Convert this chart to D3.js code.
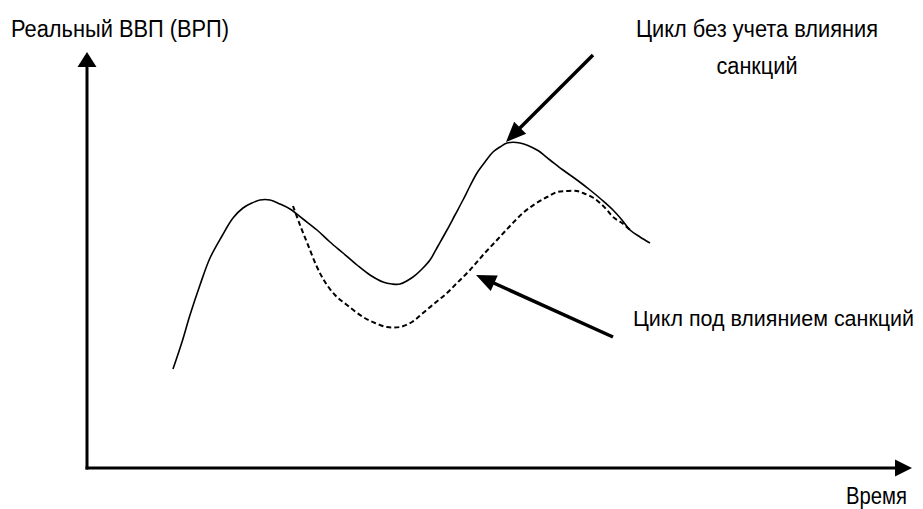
<!DOCTYPE html>
<html>
<head>
<meta charset="utf-8">
<script src="https://cdn.jsdelivr.net/npm/d3@7/dist/d3.min.js"></script>
<style>
  html, body { margin: 0; padding: 0; background: #fff; }
  svg { display: block; }
  text { font-family: "Liberation Sans", Arial, sans-serif; fill: #000; }
</style>
</head>
<body>
<div id="chart"></div>
<script>
// Time (arbitrary units) and real GDP (arbitrary units)
const cycleNoSanctionsT = [86, 95, 103, 113, 123, 135, 146, 156, 165, 173, 183, 193, 203, 216, 230, 243, 256, 270, 283, 296, 305, 313, 326, 335, 343, 351, 360, 368, 376, 383, 390, 398, 406, 413, 420, 433, 450, 463, 476, 490, 503, 515, 526, 535, 543, 553, 563];
const cycleNoSanctionsY = [99, 126, 153, 183, 210, 232, 250, 260, 265, 268, 268, 264, 259, 249, 238, 226, 215, 203, 193, 186, 184, 184, 191, 199, 208, 222, 238, 253, 268, 282, 295, 306, 316, 321, 325, 325, 318, 308, 298, 288, 278, 268, 258, 248, 238, 231, 225];

const cycleSanctionsT = [206, 213, 221, 230, 238, 248, 260, 276, 288, 300, 313, 325, 336, 348, 360, 371, 383, 396, 410, 423, 436, 448, 460, 470, 480, 490, 496, 505, 513, 520, 526, 535, 543];
const cycleSanctionsY = [262, 243, 223, 201, 186, 173, 163, 151, 145, 141, 141, 146, 155, 165, 175, 186, 198, 213, 228, 242, 255, 264, 271, 276, 277, 277, 275, 271, 265, 258, 251, 245, 238];

const axisLabels = { y: "Реальный ВВП (ВРП)", x: "Время" };
const labelNoSanctions = ["Цикл без учета влияния", "санкций"];
const labelSanctions = "Цикл под влиянием санкций";

// annotation arrows: [tailT, tailY, tipT, tipY]
const arrowNoSanctions = [506, 413, 419, 326];
const arrowSanctions = [526, 131, 389, 193];

const W = 923, H = 509;
const svg = d3.select("#chart").append("svg").attr("width", W).attr("height", H);

const x = d3.scaleLinear().domain([0, 825]).range([87, 912]);
const y = d3.scaleLinear().domain([0, 416]).range([468, 52]);

function arrowHead(x1, y1, x2, y2, len, wid) {
  const a = Math.atan2(y2 - y1, x2 - x1);
  const bx = x2 - len * Math.cos(a), by = y2 - len * Math.sin(a);
  const px = -Math.sin(a) * wid / 2, py = Math.cos(a) * wid / 2;
  return `M${x2},${y2}L${bx + px},${by + py}L${bx - px},${by - py}Z`;
}

// Axes
const x0 = x(0), y0 = y(0);
const xEnd = x.range()[1], yEnd = y.range()[1];
svg.append("line").attr("x1", x0).attr("y1", y0 + 1.5).attr("x2", x0).attr("y2", yEnd + 12)
  .attr("stroke", "#000").attr("stroke-width", 3);
svg.append("path").attr("d", arrowHead(x0, y0, x0, yEnd, 15, 19)).attr("fill", "#000");
svg.append("line").attr("x1", x0 - 1.5).attr("y1", y0).attr("x2", xEnd - 12).attr("y2", y0)
  .attr("stroke", "#000").attr("stroke-width", 3);
svg.append("path").attr("d", arrowHead(x0, y0, xEnd, y0, 17, 17)).attr("fill", "#000");

// Curves
const line = d3.line().x(d => x(d[0])).y(d => y(d[1])).curve(d3.curveCatmullRom);
const solid = cycleNoSanctionsT.map((t, i) => [t, cycleNoSanctionsY[i]]);
const dashed = cycleSanctionsT.map((t, i) => [t, cycleSanctionsY[i]]);

svg.append("path").datum(solid).attr("d", line)
  .attr("fill", "none").attr("stroke", "#000").attr("stroke-width", 1.6);
svg.append("path").datum(dashed).attr("d", line)
  .attr("fill", "none").attr("stroke", "#000").attr("stroke-width", 2)
  .attr("stroke-dasharray", "5,3");

// Annotation arrows
[arrowNoSanctions, arrowSanctions].forEach(a => {
  const x1 = x(a[0]), y1 = y(a[1]), x2 = x(a[2]), y2 = y(a[3]);
  const ang = Math.atan2(y2 - y1, x2 - x1);
  svg.append("line").attr("x1", x1).attr("y1", y1)
    .attr("x2", x2 - 14 * Math.cos(ang)).attr("y2", y2 - 14 * Math.sin(ang))
    .attr("stroke", "#000").attr("stroke-width", 3.5);
  svg.append("path").attr("d", arrowHead(x1, y1, x2, y2, 20, 17)).attr("fill", "#000");
});

// Texts
function txt(s, px, py, anchor, len, fs) {
  svg.append("text").attr("x", px).attr("y", py).attr("text-anchor", anchor)
    .attr("font-size", fs).attr("textLength", len).attr("lengthAdjust", "spacingAndGlyphs")
    .text(s);
}
txt(axisLabels.y, 11, 37, "start", 218, 23.5);
txt(labelNoSanctions[0], 757, 36.5, "middle", 242, 23.5);
txt(labelNoSanctions[1], 757, 73.5, "middle", 81, 23.5);
txt(labelSanctions, 633, 325.5, "start", 281, 22);
txt(axisLabels.x, 846, 503.5, "start", 61, 23.5);
</script>
</body>
</html>
